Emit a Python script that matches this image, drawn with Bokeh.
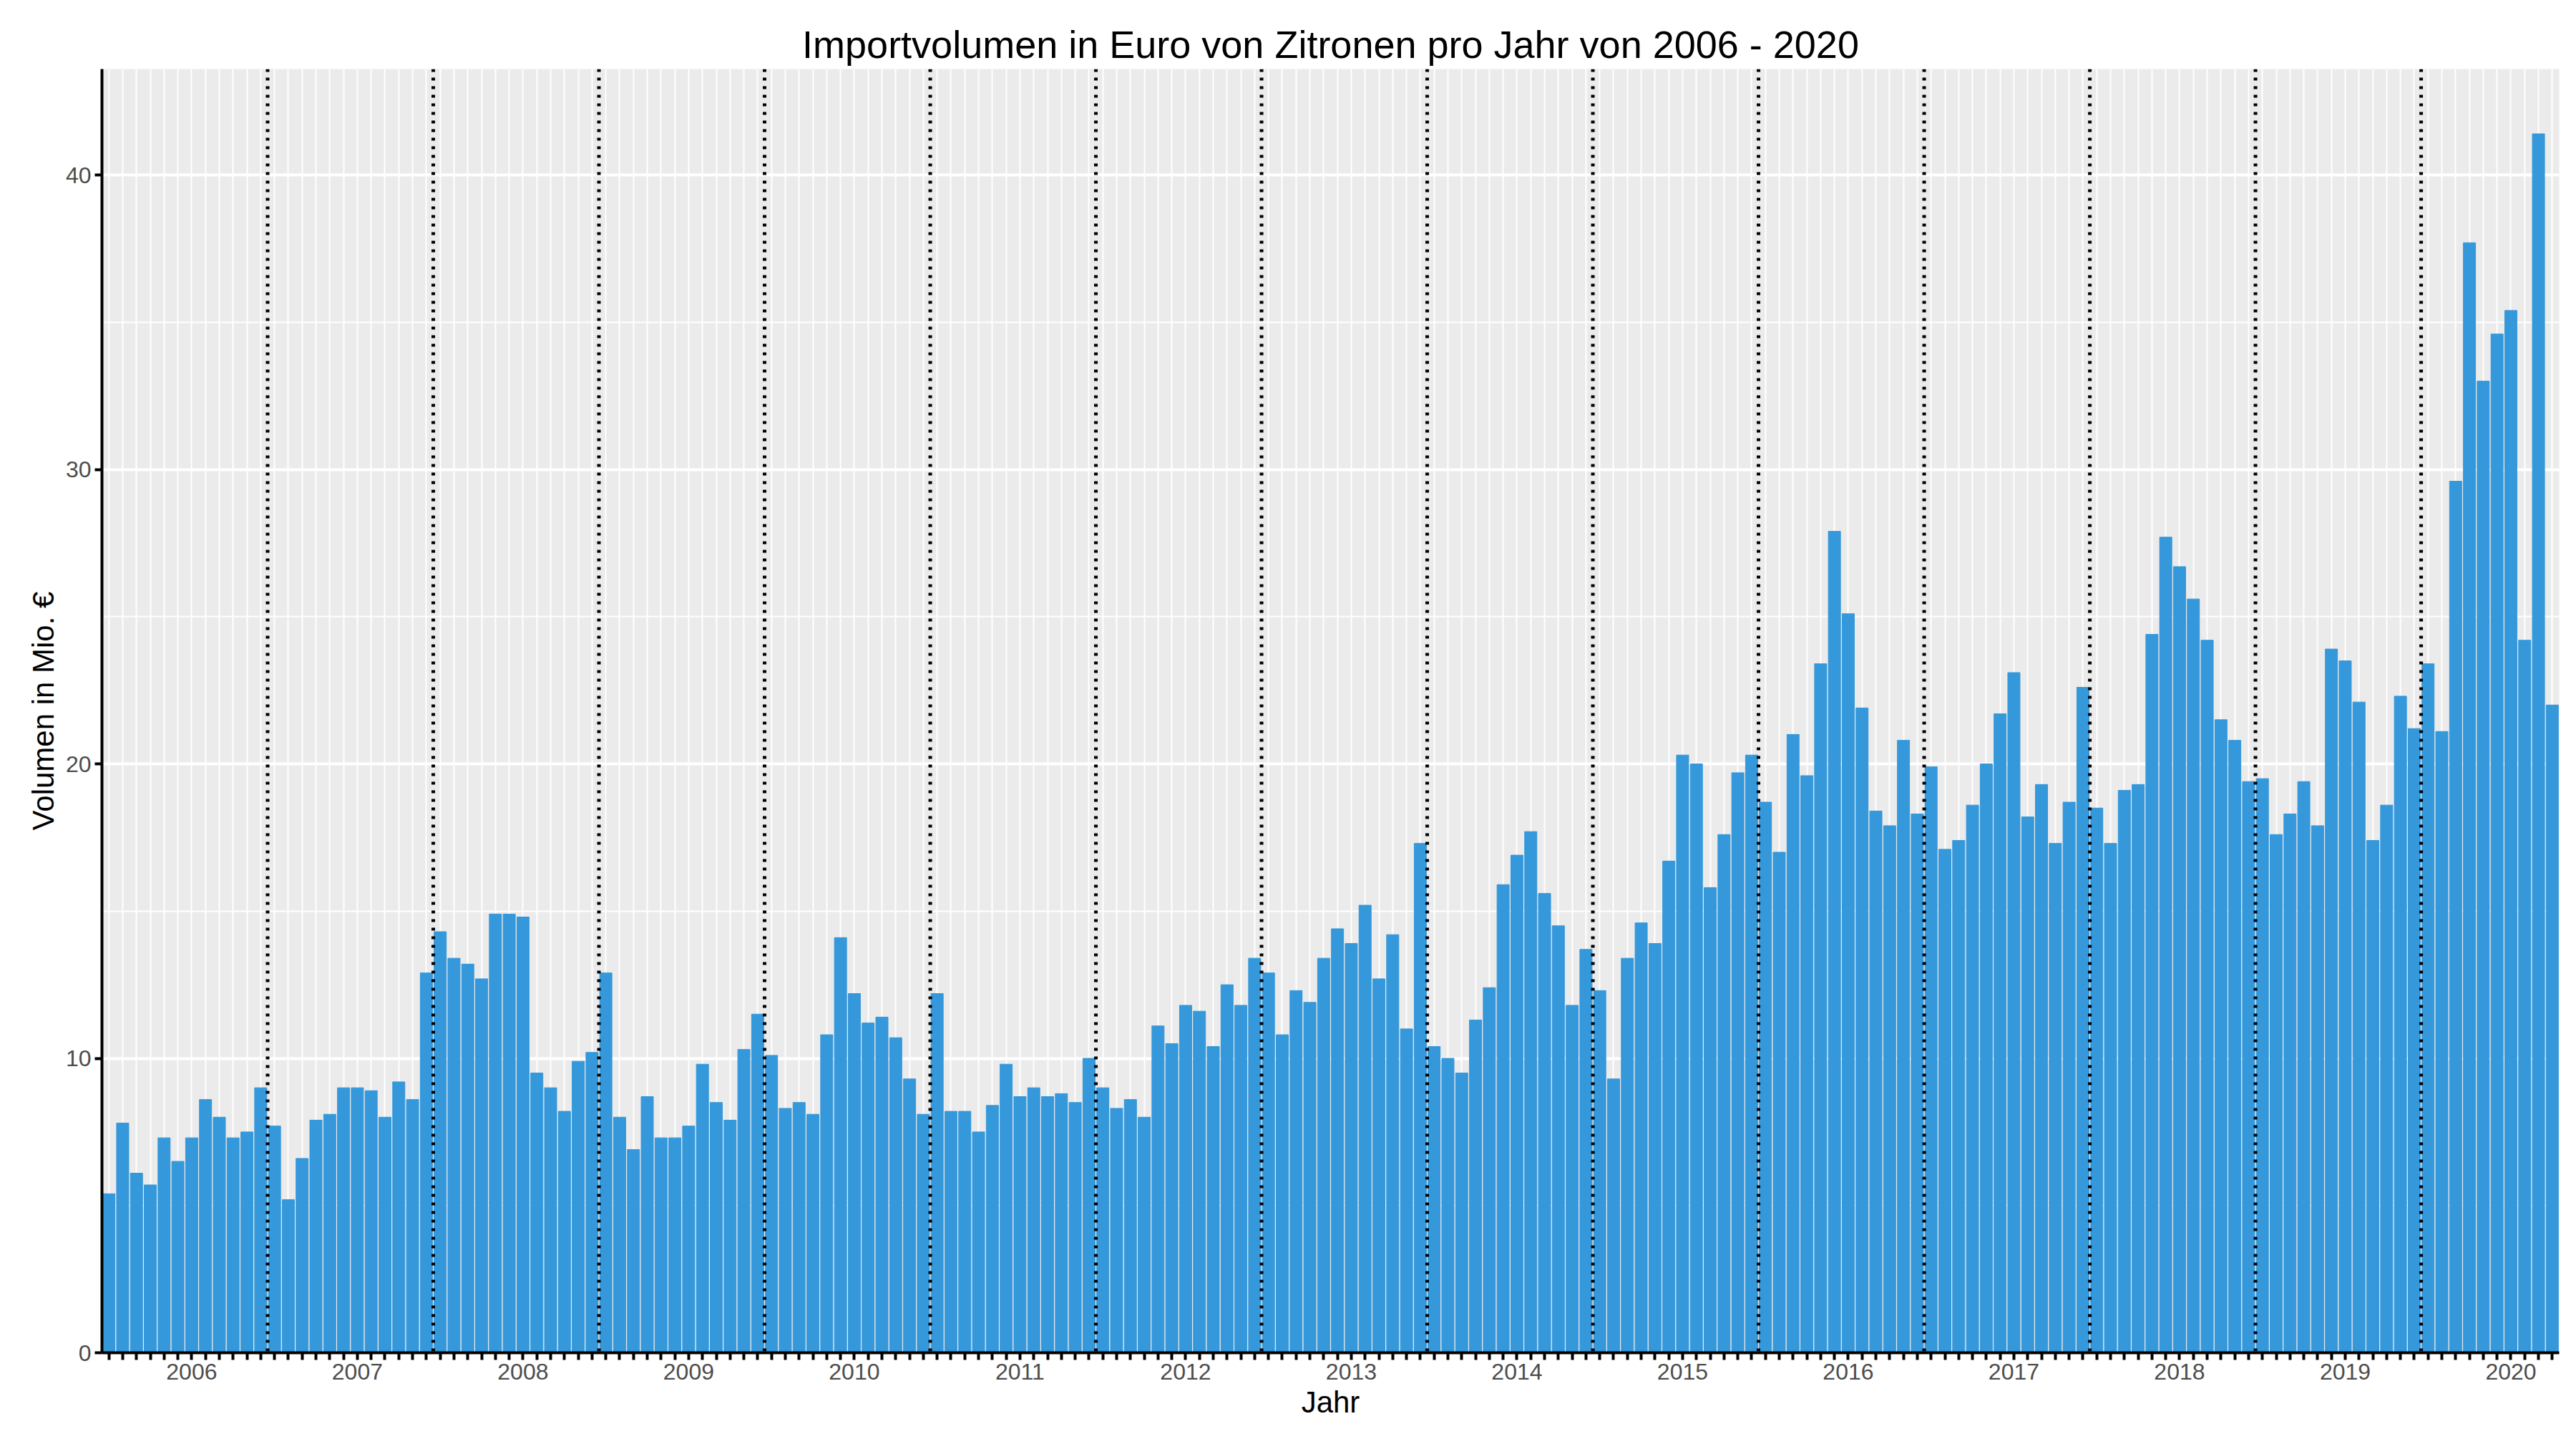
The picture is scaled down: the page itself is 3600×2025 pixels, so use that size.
from bokeh.plotting import figure
from bokeh.models import FixedTicker, Span, Range1d
from bokeh.embed import file_html
from bokeh.resources import INLINE

years = list(range(2006, 2021))
v2006 = [5.4, 7.8, 6.1, 5.7, 7.3, 6.5, 7.3, 8.6, 8.0, 7.3, 7.5, 9.0]
v2007 = [7.7, 5.2, 6.6, 7.9, 8.1, 9.0, 9.0, 8.9, 8.0, 9.2, 8.6, 12.9]
v2008 = [14.3, 13.4, 13.2, 12.7, 14.9, 14.9, 14.8, 9.5, 9.0, 8.2, 9.9, 10.2]
v2009 = [12.9, 8.0, 6.9, 8.7, 7.3, 7.3, 7.7, 9.8, 8.5, 7.9, 10.3, 11.5]
v2010 = [10.1, 8.3, 8.5, 8.1, 10.8, 14.1, 12.2, 11.2, 11.4, 10.7, 9.3, 8.1]
v2011 = [12.2, 8.2, 8.2, 7.5, 8.4, 9.8, 8.7, 9.0, 8.7, 8.8, 8.5, 10.0]
v2012 = [9.0, 8.3, 8.6, 8.0, 11.1, 10.5, 11.8, 11.6, 10.4, 12.5, 11.8, 13.4]
v2013 = [12.9, 10.8, 12.3, 11.9, 13.4, 14.4, 13.9, 15.2, 12.7, 14.2, 11.0, 17.3]
v2014 = [10.4, 10.0, 9.5, 11.3, 12.4, 15.9, 16.9, 17.7, 15.6, 14.5, 11.8, 13.7]
v2015 = [12.3, 9.3, 13.4, 14.6, 13.9, 16.7, 20.3, 20.0, 15.8, 17.6, 19.7, 20.3]
v2016 = [18.7, 17.0, 21.0, 19.6, 23.4, 27.9, 25.1, 21.9, 18.4, 17.9, 20.8, 18.3]
v2017 = [19.9, 17.1, 17.4, 18.6, 20.0, 21.7, 23.1, 18.2, 19.3, 17.3, 18.7, 22.6]
v2018 = [18.5, 17.3, 19.1, 19.3, 24.4, 27.7, 26.7, 25.6, 24.2, 21.5, 20.8, 19.4]
v2019 = [19.5, 17.6, 18.3, 19.4, 17.9, 23.9, 23.5, 22.1, 17.4, 18.6, 22.3, 21.2]
v2020 = [23.4, 21.1, 29.6, 37.7, 33.0, 34.6, 35.4, 24.2, 41.4, 22.0]

series = [v2006, v2007, v2008, v2009, v2010, v2011, v2012, v2013, v2014,
          v2015, v2016, v2017, v2018, v2019, v2020]
values = [v for s in series for v in s]
x = list(range(len(values)))

FONT = "Liberation Sans"
p = figure(width=3584, height=2009, output_backend="svg", toolbar_location=None,
           x_range=Range1d(-0.5, len(values) - 0.5), y_range=Range1d(0, 43.6),
           title="Importvolumen in Euro von Zitronen pro Jahr von 2006 - 2020",
           min_border_left=142, min_border_right=8, min_border_top=96, min_border_bottom=119)
p.background_fill_color = "#EBEBEB"
p.outline_line_color = None
p.title.align = "center"
p.title.text_font = FONT
p.title.text_font_size = "54px"
p.title.text_font_style = "normal"
p.title.text_color = "black"

p.vbar(x=x, top=values, width=0.88, color="#3498DB")

for k in range(1, len(years)):
    p.add_layout(Span(location=12 * k - 0.5, dimension="height", line_color="black",
                      line_dash="4 8", line_width=5))

label_pos = {12 * i + 6: str(y) for i, y in enumerate(years)}
p.xaxis.ticker = FixedTicker(ticks=x)
p.xaxis.major_label_overrides = {i: label_pos.get(i, "") for i in x}
p.xgrid.ticker = FixedTicker(ticks=x)
p.xgrid.grid_line_color = "white"
p.xgrid.grid_line_width = 2
p.ygrid.ticker = FixedTicker(ticks=[0, 10, 20, 30, 40], minor_ticks=[5, 15, 25, 35])
p.ygrid.grid_line_color = "white"
p.ygrid.grid_line_width = 4
p.ygrid.minor_grid_line_color = "white"
p.ygrid.minor_grid_line_width = 2
p.yaxis.ticker = FixedTicker(ticks=[0, 10, 20, 30, 40])

for ax in (p.xaxis[0], p.yaxis[0]):
    ax.axis_line_color = "black"
    ax.axis_line_width = 4
    ax.major_tick_line_color = "black"
    ax.major_tick_line_width = 4
    ax.major_tick_out = 10
    ax.major_tick_in = 0
    ax.minor_tick_line_color = None
    ax.major_label_text_font = FONT
    ax.major_label_text_font_size = "32px"
    ax.major_label_text_color = "#4D4D4D"
    ax.axis_label_text_font = FONT
    ax.axis_label_text_font_size = "42px"
    ax.axis_label_text_font_style = "normal"
    ax.axis_label_text_color = "black"
p.xaxis.axis_label = "Jahr"
p.yaxis.axis_label = "Volumen in Mio. €"

open("out.html", "w").write(file_html(p, INLINE))
